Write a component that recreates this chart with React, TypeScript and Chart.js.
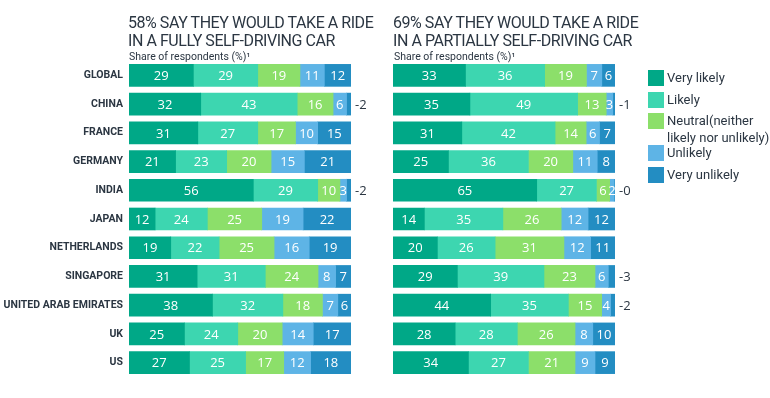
import React, { useEffect, useRef } from "react";
import { Chart, registerables } from "chart.js";

Chart.register(...registerables);

const countries = [
  "GLOBAL", "CHINA", "FRANCE", "GERMANY", "INDIA", "JAPAN",
  "NETHERLANDS", "SINGAPORE", "UNITED ARAB EMIRATES", "UK", "US",
];

const seriesNames = [
  "Very likely",
  "Likely",
  "Neutral(neither likely nor unlikely)",
  "Unlikely",
  "Very unlikely",
];

const colors = ["#00A887", "#3DD6B0", "#8CDF6A", "#5EB4E6", "#238DC2"];

// Fully self-driving car
const fullVeryLikely = [29, 32, 31, 21, 56, 12, 19, 31, 38, 25, 27];
const fullLikely = [29, 43, 27, 23, 29, 24, 22, 31, 32, 24, 25];
const fullNeutral = [19, 16, 17, 20, 10, 25, 25, 24, 18, 20, 17];
const fullUnlikely = [11, 6, 10, 15, 3, 19, 16, 8, 7, 14, 12];
const fullVeryUnlikely = [12, 2, 15, 21, 2, 22, 19, 7, 6, 17, 18];

// Partially self-driving car
const partVeryLikely = [33, 35, 31, 25, 65, 14, 20, 29, 44, 28, 34];
const partLikely = [36, 49, 42, 36, 27, 35, 26, 39, 35, 28, 27];
const partNeutral = [19, 13, 14, 20, 6, 26, 31, 23, 15, 26, 21];
const partUnlikely = [7, 3, 6, 11, 2, 12, 12, 6, 4, 8, 9];
const partVeryUnlikely = [6, 1, 7, 8, 0.4, 12, 11, 3, 2, 10, 9];

const leftTitle = ["58% SAY THEY WOULD TAKE A RIDE", "IN A FULLY SELF-DRIVING CAR"];
const rightTitle = ["69% SAY THEY WOULD TAKE A RIDE", "IN A PARTIALLY SELF-DRIVING CAR"];
const subtitle = "Share of respondents (%)\u00B9";

const TEXT = "#2B3642";
const FONT = "Roboto, 'Open Sans', sans-serif";

function buildDatasets(series: number[][]) {
  const totals = countries.map((_, i) => series.reduce((s, a) => s + a[i], 0));
  return series.map((vals, di) => ({
    label: seriesNames[di],
    data: vals.map((v, i) => (v / totals[i]) * 100),
    raw: vals,
    backgroundColor: colors[di],
    borderWidth: 0,
    barThickness: 22,
  }));
}

const segLabels = {
  id: "segLabels",
  afterDatasetsDraw(chart: any) {
    const ctx = chart.ctx;
    const n = chart.data.datasets.length;
    ctx.save();
    ctx.font = "13px 'Open Sans', sans-serif";
    ctx.textBaseline = "middle";
    chart.data.datasets.forEach((ds: any, di: number) => {
      const meta = chart.getDatasetMeta(di);
      meta.data.forEach((bar: any, i: number) => {
        const raw = ds.raw[i];
        const p = bar.getProps(["x", "base", "y"], true);
        const txt = String(Math.round(raw));
        if (di === n - 1 && raw <= 3) {
          ctx.fillStyle = TEXT;
          ctx.textAlign = "left";
          ctx.fillText("-" + txt, chart.chartArea.right + 4, p.y + 1);
        } else {
          ctx.fillStyle = "#FFFFFF";
          ctx.textAlign = "center";
          ctx.fillText(txt, (p.x + p.base) / 2, p.y + 1);
        }
      });
    });
    ctx.restore();
  },
};

function makeConfig(series: number[][], showAxis: boolean, padding: any): any {
  const yScale: any = {
    stacked: true,
    display: showAxis,
    grid: { display: false, drawTicks: false },
    border: { display: false },
    ticks: {
      color: TEXT,
      padding: 6,
      font: { family: FONT, size: 10.5, weight: "bold" },
    },
  };
  if (showAxis) {
    yScale.afterFit = (scale: any) => {
      scale.width = 129;
    };
  }
  return {
    type: "bar",
    data: { labels: countries, datasets: buildDatasets(series) },
    options: {
      indexAxis: "y",
      animation: false,
      responsive: false,
      maintainAspectRatio: false,
      layout: { padding },
      plugins: { legend: { display: false }, tooltip: { enabled: false } },
      scales: {
        x: { stacked: true, display: false, min: 0, max: 100 },
        y: yScale,
      },
    },
    plugins: [segLabels],
  };
}

function ChartCanvas({ series, showAxis, padding, left, width }: any) {
  const ref = useRef<HTMLCanvasElement>(null);
  useEffect(() => {
    const c = new Chart(ref.current as HTMLCanvasElement, makeConfig(series, showAxis, padding));
    return () => c.destroy();
  }, []);
  return (
    <canvas
      ref={ref}
      width={width}
      height={398}
      style={{ position: "absolute", left, top: 0, width, height: 398 }}
    />
  );
}

function Title({ lines, left }: { lines: string[]; left: number }) {
  return (
    <div style={{ position: "absolute", left, top: 0 }}>
      <div
        style={{
          position: "absolute",
          top: 14,
          left: 0,
          whiteSpace: "nowrap",
          fontFamily: FONT,
          fontSize: 16,
          letterSpacing: "-0.45px",
          lineHeight: "18px",
          color: TEXT,
        }}
      >
        {lines.map((l) => (
          <div key={l}>{l}</div>
        ))}
      </div>
      <div
        style={{
          position: "absolute",
          top: 50,
          left: 1,
          whiteSpace: "nowrap",
          fontFamily: FONT,
          fontSize: 10.5,
          color: TEXT,
        }}
      >
        {subtitle}
      </div>
    </div>
  );
}

function Legend() {
  const tops = [70, 92, 113, 145, 167];
  return (
    <div>
      {seriesNames.map((name, i) => (
        <div key={name}>
          <div
            style={{
              position: "absolute",
              left: 648,
              top: tops[i],
              width: 16,
              height: 16,
              background: colors[i],
            }}
          />
          <div
            style={{
              position: "absolute",
              left: 667,
              top: tops[i] - 1,
              width: 110,
              fontFamily: FONT,
              fontSize: 13,
              lineHeight: "17px",
              color: TEXT,
            }}
          >
            {name}
          </div>
        </div>
      ))}
    </div>
  );
}

export default function App() {
  const fullSeries = [fullVeryLikely, fullLikely, fullNeutral, fullUnlikely, fullVeryUnlikely];
  const partSeries = [partVeryLikely, partLikely, partNeutral, partUnlikely, partVeryUnlikely];
  return (
    <div
      style={{
        position: "fixed",
        left: 0,
        top: 0,
        width: 770,
        height: 398,
        background: "#FFFFFF",
        overflow: "hidden",
      }}
    >
      <ChartCanvas
        series={fullSeries}
        showAxis={true}
        left={0}
        width={390}
        padding={{ top: 61, bottom: 21, left: 0, right: 39 }}
      />
      <ChartCanvas
        series={partSeries}
        showAxis={false}
        left={380}
        width={260}
        padding={{ top: 61, bottom: 21, left: 13, right: 25 }}
      />
      <Title lines={leftTitle} left={128} />
      <Title lines={rightTitle} left={393} />
      <Legend />
    </div>
  );
}
